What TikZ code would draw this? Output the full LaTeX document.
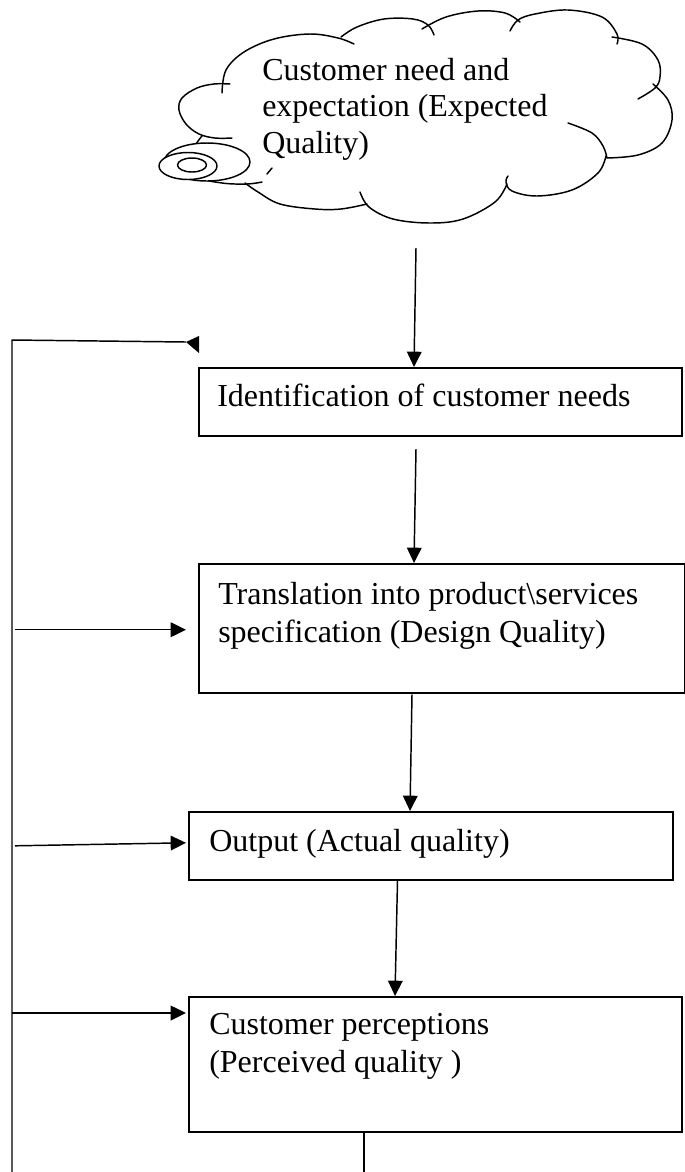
\documentclass[tikz,border=0pt]{standalone}
\usepackage{fontspec}
\setmainfont{Liberation Serif}
\usetikzlibrary{arrows.meta,calc}
\begin{document}
\begin{tikzpicture}[x=0.75pt,y=-0.75pt,
  stagebox/.style={draw, line width=1.5pt, rectangle, inner sep=0pt, anchor=north west},
  txt/.style={anchor=base west, inner sep=0pt, font=\fontsize{24pt}{28pt}\selectfont},
  flow/.style={line width=1.1pt, -{Triangle[length=11.5pt,width=11pt]}},
  loop/.style={line width=1.1pt},
  cloudline/.style={line width=1.1pt, line join=round, line cap=round},
  puff/.style={cloudline, smooth, tension=0.6}]
\useasboundingbox (0,0) rectangle (685,1172);
\clip (0,0) rectangle (685,1172);

% ---- thought cloud ----
\draw[cloudline] plot[puff] coordinates {(232,138) (215,138) (199,134) (186,124) (179,110) (182,98) (197,88) (214,84) (230,84)};
\draw[cloudline] plot[puff] coordinates {(222,93) (226,70) (244,52) (274,39) (310,34) (338,38) (354,44)};
\draw[cloudline] plot[puff] coordinates {(341,37) (357,27) (384,19) (413,19) (428,25) (434,35)};
\draw[cloudline] plot[puff] coordinates {(422,29) (446,17) (478,11) (505,13) (520,22)};
\draw[cloudline] plot[puff] coordinates {(510,31) (518,20) (535,14) (568,10) (602,17) (617,34) (617,44)};
\draw[cloudline] plot[puff] coordinates {(612,37) (642,44) (658,60) (660,77) (655,88) (638,99)};
\draw[cloudline] plot[puff] coordinates {(653,84) (668,100) (672,120) (662,143) (638,155) (607,158)};
\draw[cloudline] plot[puff] coordinates {(607,158) (603,146) (592,133) (568,123)};
\draw[cloudline] plot[puff] coordinates {(606,156) (598,173) (572,190) (537,196) (512,191) (506,182) (508,176)};
\draw[cloudline] plot[puff] coordinates {(507,184) (495,202) (463,219) (430,223) (393,219) (369,207) (360,192)};
\draw[cloudline] plot[puff] coordinates {(367,204) (341,209) (315,209) (280,204) (258,192) (245,183)};
\draw[cloudline] plot[puff] coordinates {(202,136) (195,146) (190,162) (198,177) (222,183) (247,184) (262,182)};
\draw[cloudline] (267,174) -- (272,168);

% trailing bubbles
\draw[cloudline, fill=white] (207,162) ellipse [x radius=32.25pt, y radius=14.25pt];
\draw[cloudline, fill=white] (188,166) ellipse [x radius=21.75pt, y radius=10.125pt];
\draw[cloudline, fill=white] (192,165) ellipse [x radius=10.875pt, y radius=5.25pt];

\node[txt] (c1) at (262,80) {Customer need and};
\node[txt] (c2) at (262,116) {expectation (Expected};
\node[txt] (c3) at (262,153) {Quality)};

% ---- process boxes ----
\node[stagebox, minimum width=362.25pt, minimum height=51pt] (b1) at (198,367) {};
\node[stagebox, minimum width=364.5pt, minimum height=97.1pt] (b2) at (198,563) {};
\node[stagebox, minimum width=363pt, minimum height=50.7pt] (b3) at (188,811) {};
\node[stagebox, minimum width=370.1pt, minimum height=101.25pt] (b4) at (188,996) {};

\node[txt] (t1) at (217,406.6) {Identification of customer needs};
\node[txt] (t2a) at (218,604) {Translation into product\textbackslash services};
\node[txt] (t2b) at (218,642) {specification (Design Quality)};
\node[txt] (t3) at (209,851) {Output (Actual quality)};
\node[txt] (t4a) at (209,1034) {Customer perceptions};
\node[txt] (t4b) at (209,1072.5) {(Perceived quality )};

% ---- main flow ----
\coordinate (cloudout) at (416,248);
\draw[flow] (cloudout) -- ($(b1.north west)+(216,0)$);
\draw[flow] ($(b1.south west)+(218,12)$) -- ($(b2.north west)+(216,0)$);
\draw[flow] ($(b2.south west)+(214,0)$) -- ($(b3.north west)+(222,0)$);
\draw[flow] ($(b3.south west)+(209.5,0)$) -- ($(b4.north west)+(207,0)$);
\coordinate (tailend) at (364,1190);
\draw[loop] ($(b4.south west)+(176,0)$) -- (tailend);

% ---- feedback loop ----
\coordinate (fbtop) at (12,340);
\coordinate (fbbot) at (12,1190);
\coordinate (fbtip) at (186,342);
\draw[loop] (fbbot) -- (fbtop) -- (fbtip);
\fill (fbtip) -- ++(13,-6) -- ++(0,17) -- cycle;

\coordinate (in2) at ($(b2.west)+(-12,1)$);
\coordinate (in3) at ($(b3.west)+(-2,-3)$);
\coordinate (in4) at ($(b4.north west)+(-2,17)$);
\draw[flow] ($(fbtop |- in2)+(3,0)$) -- (in2);
\draw[flow] ($(fbtop |- b3.west)+(3,0)$) -- (in3);
\draw[flow] (fbtop |- in4) -- (in4);
\end{tikzpicture}
\end{document}
